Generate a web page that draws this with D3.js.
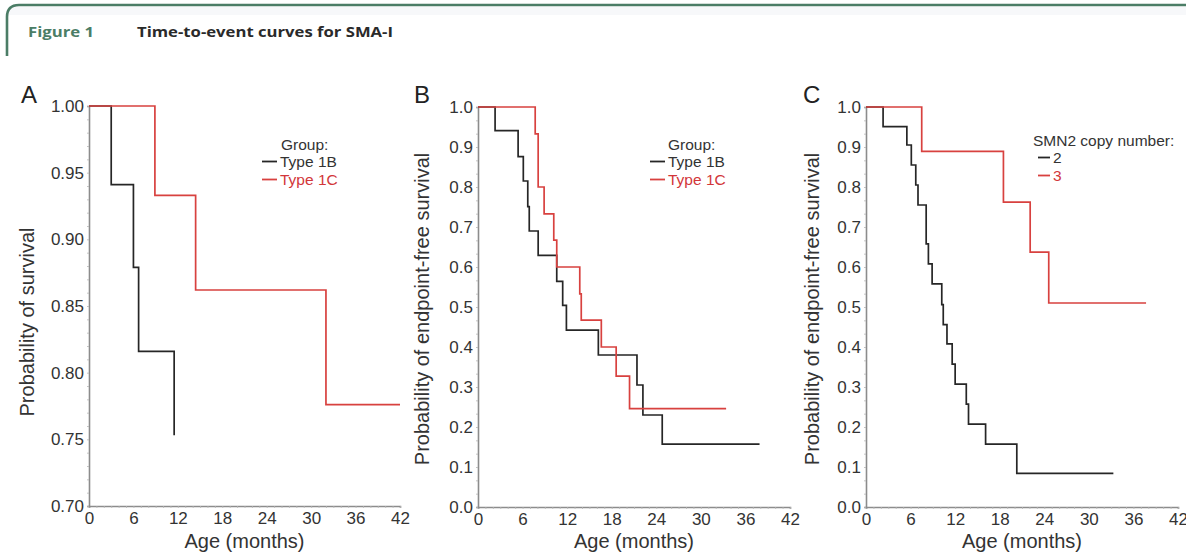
<!DOCTYPE html>
<html>
<head>
<meta charset="utf-8">
<script src="https://cdn.jsdelivr.net/npm/d3@7/dist/d3.min.js"></script>
<style>
  html, body { margin: 0; padding: 0; background: #fff; }
  svg { display: block; font-family: "Liberation Sans", Arial, sans-serif; }
</style>
</head>
<body>
<svg id="fig" width="1186" height="554"></svg>
<script>
// Kaplan–Meier step data: [age in months, survival probability after the step]
const panelA_type1B = [[0, 1], [3.0, 0.941], [6.0, 0.879], [6.7, 0.816], [11.5, 0.753]];
const panelA_type1C = [[0, 1], [8.9, 0.933], [14.4, 0.862], [32.0, 0.776], [42, 0.776]];

const panelB_type1B = [[0, 1], [2.3, 0.941], [5.4, 0.876], [6.1, 0.815], [6.7, 0.751], [6.9, 0.69],
  [8.1, 0.629], [10.6, 0.564], [11.4, 0.504], [11.9, 0.442], [16.2, 0.38], [21.4, 0.305],
  [22.2, 0.23], [24.8, 0.157], [37.9, 0.157]];
const panelB_type1C = [[0, 1], [7.7, 0.933], [8.1, 0.80], [8.9, 0.733], [10.2, 0.667], [10.6, 0.60],
  [13.7, 0.533], [13.9, 0.467], [16.6, 0.40], [18.6, 0.327], [20.4, 0.246], [33.4, 0.246]];

const panelC_copy2 = [[0, 1], [2.3, 0.951], [5.5, 0.905], [6.1, 0.855], [6.7, 0.805], [7.0, 0.755],
  [8.1, 0.658], [8.4, 0.608], [8.9, 0.558], [10.2, 0.506], [10.4, 0.456], [10.9, 0.408],
  [11.6, 0.357], [12.0, 0.307], [13.5, 0.257], [13.8, 0.207], [16.1, 0.157], [20.3, 0.084],
  [33.3, 0.084]];
const panelC_copy3 = [[0, 1], [7.5, 0.889], [18.5, 0.762], [22.1, 0.637], [24.6, 0.510], [37.7, 0.510]];

const xTicks = [0, 6, 12, 18, 24, 30, 36, 42];
const yTicksA = [0.70, 0.75, 0.80, 0.85, 0.90, 0.95, 1.00];
const yTicksBC = [0.0, 0.1, 0.2, 0.3, 0.4, 0.5, 0.6, 0.7, 0.8, 0.9, 1.0];

const BLACK = "#262626", RED = "#d8413f", AXIS = "#8c8c8c", TEXT = "#333", GREEN = "#4b7d66";
const FONT = "'Liberation Sans', Arial, Helvetica, sans-serif";

const svg = d3.select("#fig");

// Header frame and caption
svg.append("rect").attr("x", 9).attr("y", 7).attr("width", 1177).attr("height", 8).attr("fill", "#f7f8fa");
svg.append("path")
  .attr("d", "M7,56 L7,17 Q7,5 19,5 L1186,5")
  .attr("fill", "none").attr("stroke", GREEN).attr("stroke-width", 2.6);
svg.append("text").attr("x", 28).attr("y", 37)
  .attr("font-family", "'Open Sans', Lato, sans-serif").attr("font-weight", 700)
  .attr("font-size", 15).attr("fill", GREEN)
  .attr("textLength", 66).attr("lengthAdjust", "spacingAndGlyphs").text("Figure 1");
svg.append("text").attr("x", 137).attr("y", 37)
  .attr("font-family", "'Open Sans', Lato, sans-serif").attr("font-weight", 700)
  .attr("font-size", 15).attr("fill", "#2a2a2a")
  .attr("textLength", 256).attr("lengthAdjust", "spacingAndGlyphs").text("Time-to-event curves for SMA-I");

function panel(opts) {
  const { left, right, top, bottom, yDomain, yTicks, yFormat, letter, letterX,
          yTitle, yTitleX, yTitleY, series, legend } = opts;
  const x = d3.scaleLinear().domain([0, 42]).range([left, right]);
  const y = d3.scaleLinear().domain(yDomain).range([bottom, top]);
  const g = svg.append("g").attr("font-family", FONT);

  // minor ticks and axis lines
  const xAxis = d3.axisBottom(x).tickValues(d3.range(0, 43, 1)).tickSize(2).tickFormat("");
  const gx = g.append("g").attr("transform", `translate(0,${bottom})`).call(xAxis);
  gx.select(".domain").attr("stroke", AXIS).attr("stroke-width", 1.6);
  gx.selectAll(".tick line").attr("stroke", "#b5b5b5").attr("stroke-width", 0.8);

  const step = (yDomain[1] - yDomain[0]) / 30;
  const yMinor = d3.range(0, 31).map(i => yDomain[0] + i * step);
  const yAxis = d3.axisLeft(y).tickValues(yMinor).tickSize(2).tickFormat("");
  const gy = g.append("g").attr("transform", `translate(${left},0)`).call(yAxis);
  gy.select(".domain").attr("stroke", AXIS).attr("stroke-width", 1.6);
  gy.selectAll(".tick line").attr("stroke", "#b5b5b5").attr("stroke-width", 0.8);

  // major tick labels
  const lx = g.append("g").attr("transform", `translate(0,${bottom})`)
    .call(d3.axisBottom(x).tickValues(xTicks).tickSize(0).tickPadding(6).tickFormat(d3.format("d")));
  lx.select(".domain").remove();
  lx.attr("font-family", FONT).attr("font-size", 17);
  lx.selectAll("text").attr("fill", TEXT);

  const ly = g.append("g").attr("transform", `translate(${left},0)`)
    .call(d3.axisLeft(y).tickValues(yTicks).tickSize(0).tickPadding(5).tickFormat(d3.format(yFormat)));
  ly.select(".domain").remove();
  ly.attr("font-family", FONT).attr("font-size", 17);
  ly.selectAll("text").attr("fill", TEXT);

  // titles
  g.append("text").attr("x", (left + right) / 2).attr("y", 548).attr("text-anchor", "middle")
    .attr("font-size", 20).attr("fill", TEXT).text("Age (months)");
  g.append("text").attr("transform", `translate(${yTitleX},${yTitleY}) rotate(-90)`)
    .attr("text-anchor", "middle").attr("font-size", 20).attr("fill", TEXT).text(yTitle);
  g.append("text").attr("x", letterX).attr("y", 103).attr("font-size", 24).attr("fill", "#222").text(letter);

  // survival curves
  const line = d3.line().x(d => x(d[0])).y(d => y(d[1])).curve(d3.curveStepAfter);
  series.forEach(s => {
    g.append("path").datum(s.data).attr("d", line)
      .attr("fill", "none").attr("stroke", s.color).attr("stroke-width", 1.7);
  });

  // legend
  const lg = g.append("g").attr("transform", `translate(${legend.x},${legend.y})`).attr("font-size", 15.5);
  lg.append("text").attr("x", legend.headX).attr("y", 0).attr("fill", TEXT).text(legend.title);
  series.forEach((s, i) => {
    const yy = 17 + i * 18;
    lg.append("line").attr("x1", 0).attr("x2", legend.lineLen).attr("y1", yy - 5.5).attr("y2", yy - 5.5)
      .attr("stroke", s.color).attr("stroke-width", 1.8);
    lg.append("text").attr("x", legend.lineLen + 3).attr("y", yy)
      .attr("fill", s.color === RED ? "#d2363a" : TEXT).text(s.label);
  });
}

panel({
  left: 89, right: 400, top: 106, bottom: 506,
  yDomain: [0.70, 1.00], yTicks: yTicksA, yFormat: ".2f",
  letter: "A", letterX: 21, yTitle: "Probability of survival", yTitleX: 34, yTitleY: 322,
  series: [
    { label: "Type 1B", color: BLACK, data: panelA_type1B },
    { label: "Type 1C", color: RED, data: panelA_type1C }
  ],
  legend: { x: 262, y: 150, headX: 19, lineLen: 15, title: "Group:" }
});

panel({
  left: 478, right: 790, top: 107, bottom: 507,
  yDomain: [0, 1], yTicks: yTicksBC, yFormat: ".1f",
  letter: "B", letterX: 414, yTitle: "Probability of endpoint-free survival", yTitleX: 429, yTitleY: 309,
  series: [
    { label: "Type 1B", color: BLACK, data: panelB_type1B },
    { label: "Type 1C", color: RED, data: panelB_type1C }
  ],
  legend: { x: 650, y: 150, headX: 18, lineLen: 15, title: "Group:" }
});

panel({
  left: 866, right: 1178, top: 107, bottom: 507,
  yDomain: [0, 1], yTicks: yTicksBC, yFormat: ".1f",
  letter: "C", letterX: 803, yTitle: "Probability of endpoint-free survival", yTitleX: 819, yTitleY: 309,
  series: [
    { label: "2", color: BLACK, data: panelC_copy2 },
    { label: "3", color: RED, data: panelC_copy3 }
  ],
  legend: { x: 1038, y: 146, headX: -5, lineLen: 12, title: "SMN2 copy number:" }
});
</script>
</body>
</html>
